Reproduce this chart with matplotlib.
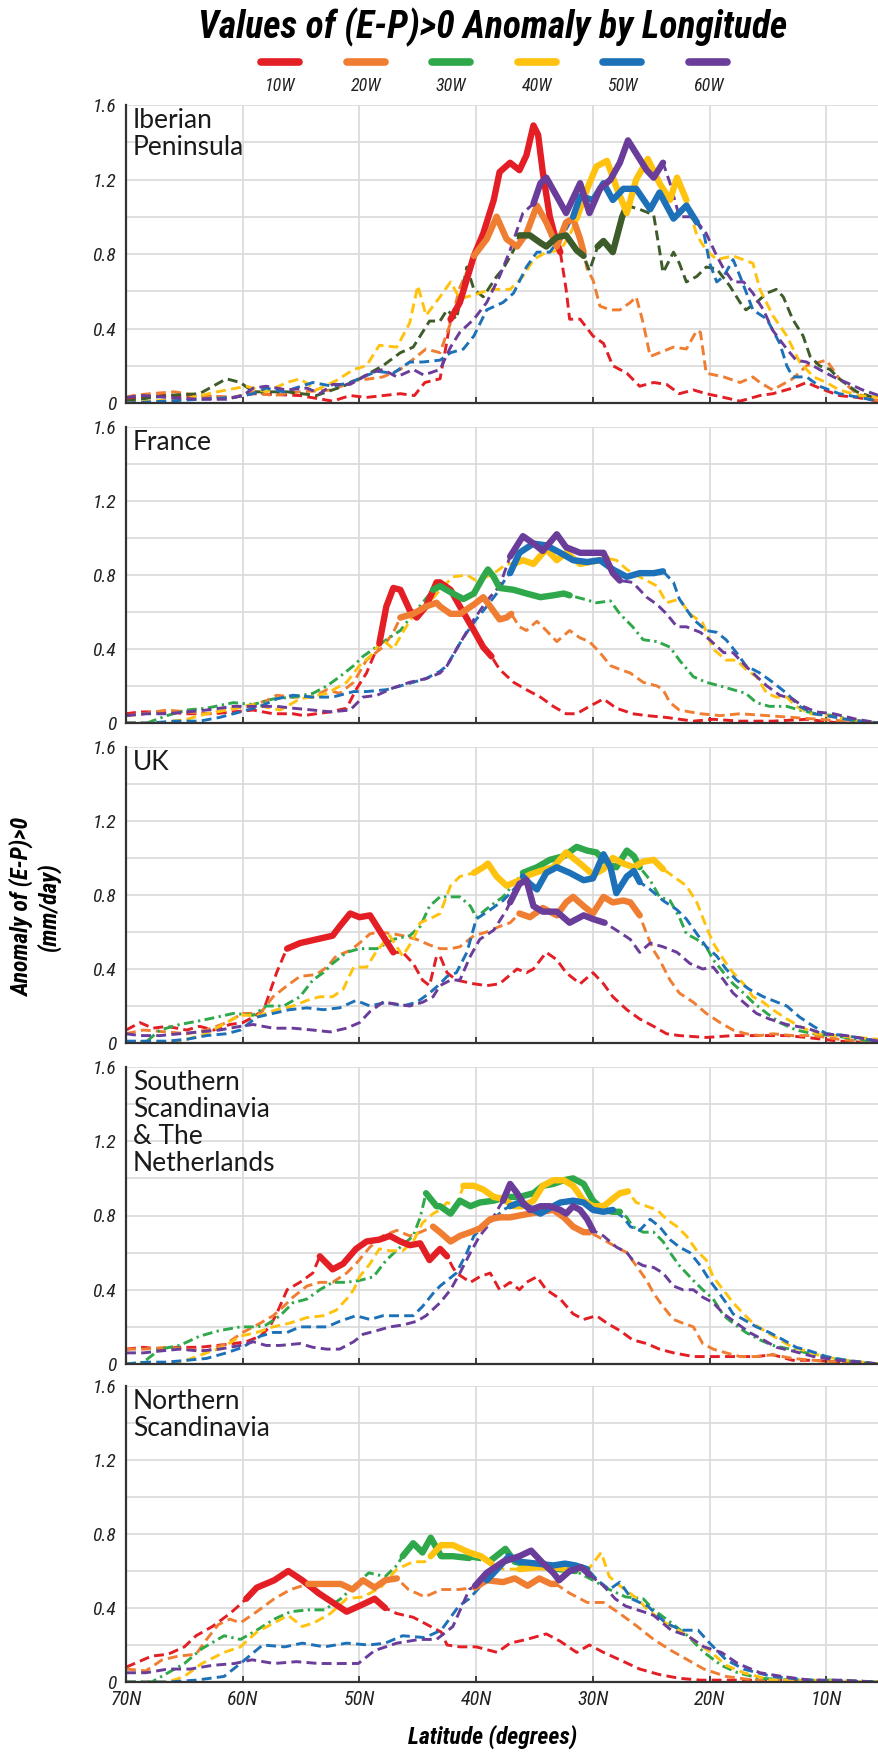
import matplotlib
matplotlib.use('Agg')
import matplotlib.pyplot as plt
from matplotlib import font_manager
from matplotlib.lines import Line2D

# ---------------- data ----------------
LONGITUDES = ['10W', '20W', '30W', '40W', '50W', '60W']
COLORS = ['#E31E24', '#F07E32', '#2EA84A', '#FFC20E', '#1D71B8', '#6A3D9A']
IBERIA_30W_COLOR = '#3D5C29'
REGIONS = ['Iberian\nPeninsula', 'France', 'UK',
           'Southern\nScandinavia\n& The\nNetherlands', 'Northern\nScandinavia']
X_TICKS = [70, 60, 50, 40, 30, 20, 10]
X_TICK_LABELS = ['70N', '60N', '50N', '40N', '30N', '20N', '10N']
Y_TICKS = [0, 0.4, 0.8, 1.2, 1.6]
Y_TICK_LABELS = ['0', '0.4', '0.8', '1.2', '1.6']
Y_MINOR = [0.2, 0.6, 1.0, 1.4]

# (latitude, anomaly) pairs
IB_10W = [(70,0.02),(67,0.04),(65.4,0.04),(60.8,0.03),(59.1,0.05),(55.1,0.04),(52.3,0.01),(50.8,0.04),(49.4,0.03),(46.5,0.05),(45.3,0.04),(44.4,0.11),(43.1,0.13),(42.6,0.30),(42.2,0.45),(41.4,0.54),(40.2,0.79),(39.4,0.91),(38.5,1.09),(38.0,1.24),(37.1,1.29),(36.3,1.25),(35.7,1.33),(35.1,1.49),(34.7,1.44),(34.3,1.24),(33.7,1.00),(33.1,0.86),(32.8,0.81),(32.3,0.61),(32.0,0.45),(31.1,0.45),(30.0,0.36),(29.1,0.32),(28.3,0.20),(27.1,0.16),(26.0,0.09),(24.8,0.11),(23.7,0.10),(22.6,0.05),(21.4,0.07),(20.3,0.05),(18.8,0.03),(17.4,0.01),(15.7,0.04),(14.6,0.05),(12.9,0.08),(11.7,0.11),(10.6,0.08),(8.9,0.04),(7.4,0.03),(5.5,0.01)]
IB_20W = [(70,0.03),(69.4,0.04),(67.9,0.05),(65.9,0.06),(63.7,0.04),(60.8,0.03),(59.1,0.06),(57.4,0.04),(55.1,0.06),(52.3,0.07),(50.5,0.12),(49.1,0.13),(48,0.14),(46.5,0.18),(45.1,0.25),(44.3,0.29),(43.1,0.27),(42.2,0.43),(41.4,0.62),(40.2,0.79),(39.1,0.88),(38.25,1.00),(37.4,0.88),(36.5,0.84),(35.7,0.91),(34.8,1.06),(34.0,0.97),(33.1,0.84),(32.3,0.97),(31.7,0.99),(31.1,0.88),(30.8,0.81),(30.5,0.72),(30.0,0.66),(29.4,0.52),(28.5,0.50),(27.7,0.50),(26.8,0.54),(26.3,0.57),(25.7,0.43),(25.1,0.25),(24.3,0.27),(23.1,0.30),(22.0,0.29),(21.1,0.39),(20.8,0.38),(20.3,0.16),(18.8,0.14),(17.4,0.11),(16.3,0.14),(15.7,0.11),(14.6,0.07),(12.9,0.13),(11.7,0.20),(10.0,0.23),(8.9,0.13),(7.4,0.05),(5.5,0.01)]
IB_30W = [(70,0.01),(66.5,0.04),(63.7,0.05),(61.4,0.13),(60.2,0.11),(59.1,0.06),(56.2,0.06),(53.7,0.04),(51.4,0.09),(50,0.13),(48,0.20),(46.5,0.27),(45.4,0.30),(44.5,0.39),(44,0.44),(43.1,0.44),(42.5,0.50),(41.7,0.45),(40.8,0.73),(40.2,0.61),(39.4,0.57),(38.25,0.68),(37.7,0.72),(36.8,0.82),(36.3,0.90),(35.4,0.90),(34.5,0.86),(34.0,0.84),(33.1,0.89),(32.3,0.90),(31.4,0.82),(30.8,0.79),(30.3,0.71),(29.6,0.84),(29.1,0.87),(28.3,0.81),(27.5,1.00),(27.1,1.06),(26.0,1.04),(24.8,1.01),(24.3,0.82),(24.0,0.70),(23.1,0.81),(22.6,0.75),(22.0,0.65),(21.1,0.68),(20.3,0.73),(19.4,0.72),(18.3,0.63),(17.4,0.54),(16.9,0.50),(16.0,0.54),(15.1,0.59),(14.3,0.61),(13.7,0.57),(12.9,0.45),(12.0,0.36),(11.4,0.25),(10.6,0.20),(9.7,0.18),(8.9,0.13),(7.4,0.06),(5.5,0.02)]
IB_40W = [(70,0.0),(67.9,0.01),(65.1,0.02),(62.2,0.06),(59.7,0.09),(58,0.06),(56.2,0.11),(55.1,0.13),(53.7,0.07),(52,0.12),(50.5,0.18),(49.4,0.20),(48.3,0.31),(46.8,0.30),(45.7,0.43),(45,0.63),(44.3,0.47),(43.1,0.57),(42.2,0.65),(41.4,0.56),(40.2,0.58),(38.8,0.61),(37.1,0.61),(36,0.68),(35.1,0.77),(34,0.81),(32.8,0.82),(32,0.90),(31.4,0.99),(30.5,1.15),(29.7,1.27),(28.8,1.30),(28.0,1.16),(27.1,1.02),(26.3,1.20),(25.3,1.31),(24.3,1.18),(23.4,1.09),(22.8,1.21),(22.0,1.09),(21.1,0.90),(20.3,0.82),(19.4,0.77),(18.0,0.79),(16.3,0.75),(15.7,0.61),(14.6,0.47),(13.4,0.36),(12.3,0.22),(11.1,0.14),(10.0,0.11),(8.9,0.07),(7.2,0.04),(5.5,0.03)]
IB_50W = [(70,0.0),(66.5,0.01),(63.7,0.02),(60.8,0.03),(59.1,0.05),(58,0.08),(56.5,0.06),(54,0.11),(52.3,0.09),(50.8,0.11),(49.7,0.14),(48.5,0.17),(47.1,0.16),(45.7,0.22),(44.6,0.22),(43.1,0.23),(42.2,0.27),(41.1,0.29),(40.2,0.36),(39.1,0.50),(37.7,0.54),(36.8,0.59),(35.7,0.73),(34.8,0.81),(33.7,0.81),(32.5,0.91),(31.7,1.00),(31.1,1.11),(30.0,1.09),(29.1,1.18),(28.3,1.09),(27.4,1.15),(26.3,1.15),(25.1,1.04),(24.3,1.13),(23.1,0.99),(22.0,1.06),(21.1,0.97),(20.5,0.91),(20.0,0.75),(19.4,0.65),(18.8,0.68),(18.0,0.77),(17.4,0.68),(16.3,0.50),(15.1,0.45),(14.0,0.32),(13.4,0.20),(12.9,0.14),(11.7,0.14),(10.6,0.09),(8.9,0.05),(7.2,0.03),(5.5,0.01)]
IB_60W = [(70,0.03),(68.5,0.04),(66.5,0.03),(63.7,0.02),(61.4,0.02),(60,0.04),(59.1,0.08),(58,0.09),(56.2,0.07),(54.5,0.08),(53.4,0.05),(52.3,0.10),(50.8,0.10),(49.1,0.16),(48,0.18),(46.8,0.14),(45.4,0.18),(44.5,0.15),(43.1,0.18),(42.2,0.30),(41.4,0.38),(40.2,0.45),(39.1,0.54),(38,0.68),(37.1,0.82),(36,1.02),(35.1,1.07),(34.5,1.18),(34.0,1.21),(33.1,1.11),(32.3,1.02),(31.1,1.18),(30.3,1.02),(29.4,1.15),(28.5,1.20),(27.7,1.29),(27.0,1.41),(26.3,1.34),(25.4,1.25),(24.8,1.21),(24.0,1.29),(23.4,1.18),(22.6,1.00),(21.4,1.00),(20.3,0.91),(19.4,0.79),(18.8,0.72),(18.0,0.65),(17.1,0.65),(16.3,0.59),(15.4,0.50),(14.6,0.39),(13.4,0.29),(12.6,0.23),(11.7,0.22),(10.6,0.18),(9.4,0.14),(8.3,0.11),(6.9,0.07),(5.5,0.04)]
IB_SOLID = [[(42.2, 32.8)], [(40.2, 30.8)], [(36.3, 30.8), (29.6, 27.1)],
            [(31.4, 22.0)], [(31.7, 21.1)], [(35.1, 24.0)]]

FR_10W = [(70,0.05),(68.8,0.06),(66.5,0.06),(64.8,0.05),(62.5,0.05),(60.8,0.06),(59.1,0.07),(57.4,0.05),(55.7,0.05),(54.8,0.04),(53.7,0.05),(52.5,0.06),(51.1,0.08),(50.3,0.18),(49.4,0.27),(48.8,0.36),(48.3,0.43),(47.7,0.63),(47.1,0.73),(46.5,0.72),(45.7,0.61),(45.1,0.57),(44.3,0.63),(43.4,0.76),(43.1,0.76),(42.2,0.72),(41.4,0.63),(40.2,0.50),(39.4,0.41),(38.7,0.36),(38.0,0.29),(36.8,0.22),(35.7,0.18),(34.5,0.14),(33.4,0.09),(32.3,0.05),(31.4,0.05),(30.3,0.09),(29.1,0.13),(28.0,0.08),(26.6,0.05),(25.4,0.04),(23.7,0.03),(21.4,0.01),(19.7,0.02),(17.4,0.01),(14.6,0.01),(11.7,0.02),(8.9,0.0),(5.5,0.0)]
FR_20W = [(70,0.04),(68.5,0.05),(66.5,0.07),(64.8,0.06),(63.1,0.05),(61.4,0.07),(59.7,0.09),(58,0.12),(57.1,0.15),(55.7,0.14),(54,0.14),(52.8,0.18),(51.7,0.16),(50.5,0.22),(49.4,0.34),(48,0.41),(47.1,0.49),(46.5,0.57),(45.4,0.59),(44.3,0.63),(43.4,0.65),(43.1,0.63),(42.2,0.59),(41.4,0.59),(40.2,0.64),(39.4,0.68),(38.8,0.63),(38.0,0.56),(37.4,0.57),(37.0,0.59),(36.3,0.52),(35.7,0.50),(34.8,0.55),(34.0,0.50),(33.1,0.44),(32.0,0.50),(31.1,0.46),(30.3,0.44),(29.4,0.38),(28.5,0.31),(27.7,0.29),(26.8,0.27),(25.7,0.22),(24.5,0.20),(24.0,0.18),(23.4,0.11),(22.6,0.07),(20.8,0.05),(19.1,0.04),(17.4,0.05),(15.1,0.04),(12.9,0.03),(10.6,0.02),(8.3,0.01),(5.5,0.0)]
FR_30W = [(70,0.0),(68.2,0.0),(66.5,0.04),(64.8,0.07),(63.1,0.08),(60.8,0.11),(59.1,0.10),(57.4,0.13),(55.7,0.14),(54,0.16),(52.8,0.20),(51.7,0.25),(50.5,0.31),(49.7,0.36),(48.8,0.40),(47.7,0.45),(46.5,0.50),(45.4,0.59),(44.6,0.65),(43.7,0.72),(43.1,0.74),(42.0,0.70),(41.1,0.67),(40.2,0.70),(39.4,0.79),(39.0,0.83),(38.5,0.79),(38.0,0.73),(36.8,0.72),(35.7,0.70),(34.5,0.68),(33.4,0.69),(32.5,0.70),(32.0,0.69),(30.8,0.67),(29.7,0.65),(28.5,0.66),(27.7,0.59),(26.6,0.52),(25.7,0.45),(24.5,0.44),(23.4,0.41),(22.6,0.34),(21.4,0.25),(20.3,0.22),(19.1,0.20),(18.0,0.18),(16.9,0.16),(16.0,0.11),(14.9,0.09),(13.4,0.09),(12.3,0.07),(10.9,0.05),(9.4,0.04),(7.4,0.01),(5.5,0.0)]
FR_40W = [(70,0.0),(67.1,0.0),(64.8,0.02),(63.1,0.05),(61.4,0.07),(59.1,0.10),(56.8,0.07),(55.1,0.13),(52.8,0.16),(51.1,0.22),(50,0.31),(49.1,0.36),(48,0.45),(47.1,0.40),(46.3,0.49),(45.4,0.58),(44.3,0.63),(43.1,0.72),(42,0.79),(40.8,0.80),(40,0.77),(39.1,0.79),(38.25,0.82),(37.4,0.86),(36.8,0.86),(36,0.88),(35.1,0.86),(34,0.94),(33.1,0.88),(32.3,0.92),(31.1,0.86),(30.3,0.87),(29.4,0.88),(28.8,0.89),(28,0.88),(27.1,0.83),(26.3,0.80),(25.4,0.77),(24.5,0.74),(23.7,0.65),(22.6,0.67),(21.7,0.59),(20.6,0.54),(19.7,0.40),(18.6,0.34),(17.7,0.34),(16.9,0.29),(16.0,0.25),(15.1,0.16),(14.3,0.14),(13.4,0.14),(12.6,0.09),(11.4,0.05),(10.0,0.04),(8.3,0.02),(5.5,0.0)]
FR_50W = [(70,0.0),(67.9,0.0),(65.9,0.01),(63.7,0.01),(62,0.03),(60.2,0.06),(58.5,0.09),(57.1,0.13),(55.7,0.15),(54,0.14),(52.3,0.14),(50.5,0.17),(49.4,0.17),(47.7,0.18),(46.5,0.20),(45.4,0.22),(44.3,0.24),(43.1,0.28),(42.5,0.31),(41.7,0.40),(40.8,0.49),(40,0.56),(39.1,0.63),(38.25,0.70),(37.4,0.79),(37.1,0.81),(36.3,0.92),(35.1,0.97),(34,0.96),(32.8,0.92),(31.7,0.88),(30.5,0.87),(29.4,0.88),(28.3,0.83),(27.1,0.79),(26,0.81),(24.8,0.81),(24.0,0.82),(23.1,0.76),(22.6,0.67),(21.4,0.56),(20.3,0.50),(19.4,0.49),(18.6,0.45),(17.7,0.38),(16.9,0.31),(15.7,0.27),(14.6,0.22),(13.4,0.16),(12.3,0.09),(11.1,0.05),(10,0.04),(8.3,0.02),(5.5,0.0)]
FR_60W = [(70,0.04),(68.2,0.05),(66.5,0.05),(64.8,0.06),(63.1,0.07),(60.8,0.09),(59.1,0.09),(57.1,0.09),(55.7,0.08),(54,0.07),(52.5,0.06),(50.8,0.07),(49.7,0.14),(48.5,0.15),(47.1,0.19),(45.7,0.22),(44.3,0.24),(43.1,0.27),(42.5,0.31),(41.4,0.43),(40.2,0.56),(39.1,0.66),(38,0.74),(37.1,0.90),(36,1.01),(35.1,0.97),(34.3,0.93),(33.1,1.02),(32.3,0.95),(31.1,0.92),(30,0.92),(29.1,0.92),(28.3,0.81),(27.7,0.77),(26.6,0.76),(25.4,0.68),(24.5,0.64),(23.7,0.59),(22.8,0.52),(22.0,0.52),(20.8,0.49),(20.0,0.45),(18.8,0.38),(18.0,0.38),(17.1,0.32),(16.3,0.27),(15.1,0.20),(14.0,0.15),(12.9,0.13),(12.0,0.09),(10.9,0.06),(9.4,0.05),(7.4,0.02),(5.5,0.0)]
FR_SOLID = [[(48.3, 38.7)], [(46.5, 37.0)], [(43.7, 32.0)],
            [(36.8, 28.8)], [(37.1, 24.0)], [(37.1, 27.7)]]

UK_10W = [(70,0.07),(68.8,0.11),(67.7,0.08),(66.5,0.09),(64.8,0.07),(63.7,0.09),(62.5,0.07),(61.1,0.10),(60,0.11),(59.1,0.14),(58.2,0.18),(57.7,0.27),(57.1,0.38),(56.5,0.47),(56.2,0.51),(55.1,0.54),(53.7,0.56),(52.3,0.58),(51.7,0.63),(50.8,0.70),(50,0.68),(49.1,0.69),(48.3,0.61),(47.1,0.49),(46.3,0.49),(45.4,0.43),(44.6,0.34),(44,0.31),(43.4,0.47),(43.1,0.47),(42.5,0.38),(41.7,0.34),(40.2,0.32),(39.1,0.31),(38,0.32),(36.5,0.40),(35.7,0.38),(35.1,0.40),(34,0.49),(33.1,0.45),(32.3,0.38),(31.1,0.32),(30,0.38),(29.1,0.32),(28.3,0.25),(27.1,0.18),(26,0.13),(24.8,0.09),(23.7,0.05),(22.6,0.04),(20.3,0.03),(18,0.04),(15.7,0.04),(13.4,0.04),(11.7,0.03),(8.9,0.01),(5.5,0.0)]
UK_20W = [(70,0.05),(68.5,0.07),(66.5,0.06),(64.8,0.05),(63.1,0.07),(61.4,0.11),(60,0.16),(58.5,0.16),(57.4,0.25),(56.2,0.31),(55.1,0.36),(53.7,0.37),(52.8,0.41),(52,0.47),(50.8,0.50),(50,0.54),(49.1,0.59),(48.3,0.60),(47.1,0.59),(46.3,0.58),(45.1,0.56),(44,0.53),(43.1,0.51),(42.2,0.51),(41.4,0.52),(40.2,0.58),(39.1,0.60),(38,0.63),(37.1,0.65),(36.3,0.70),(35.4,0.68),(34.3,0.73),(33.1,0.69),(32.3,0.76),(31.7,0.79),(30.8,0.74),(30,0.70),(29.1,0.79),(28.3,0.76),(27.4,0.77),(26.8,0.76),(26,0.69),(25.4,0.59),(24.8,0.50),(24.3,0.45),(23.4,0.34),(22.6,0.27),(21.4,0.22),(20.3,0.16),(19.1,0.11),(18,0.07),(16.9,0.05),(15.7,0.04),(14.6,0.05),(12.9,0.04),(11.1,0.04),(8.9,0.02),(5.5,0.0)]
UK_30W = [(70,0.0),(68.2,0.01),(67.1,0.07),(65.4,0.10),(63.7,0.12),(62.2,0.14),(60.8,0.16),(59.1,0.15),(58,0.20),(56.5,0.20),(55.1,0.25),(54,0.34),(53.1,0.38),(52.3,0.43),(51.1,0.49),(50,0.51),(48.5,0.51),(47.1,0.56),(45.7,0.58),(44.8,0.63),(44,0.74),(43.1,0.79),(42.5,0.79),(41.4,0.79),(40.5,0.74),(40,0.68),(38.8,0.74),(37.7,0.79),(36.8,0.86),(36,0.92),(34.8,0.95),(33.7,0.99),(32.5,1.01),(31.4,1.06),(30.5,1.04),(29.7,1.03),(28.8,0.97),(28,0.95),(27.1,1.04),(26.5,1.01),(26,0.95),(25.1,0.88),(24.3,0.79),(23.4,0.77),(22.6,0.68),(22,0.59),(21.1,0.56),(20.3,0.52),(19.7,0.45),(18.8,0.38),(18,0.32),(17.1,0.27),(16.3,0.22),(15.1,0.16),(14,0.11),(12.6,0.07),(11.1,0.05),(9.4,0.04),(7.4,0.02),(5.5,0.01)]
UK_40W = [(70,0.0),(66.5,0.0),(64.8,0.02),(63.1,0.05),(61.4,0.11),(60.2,0.15),(58.5,0.15),(57.1,0.18),(55.7,0.20),(54.5,0.23),(53.4,0.25),(52.3,0.25),(51.4,0.29),(50.5,0.41),(49.4,0.41),(48.5,0.50),(47.4,0.58),(46.3,0.47),(45.4,0.56),(44.8,0.65),(43.7,0.68),(43.1,0.70),(42.2,0.85),(41.4,0.90),(40.2,0.92),(39.4,0.95),(39.0,0.97),(38.25,0.90),(37.4,0.85),(36.3,0.88),(35.4,0.91),(34.5,0.93),(33.4,0.95),(32.3,1.03),(31.1,0.97),(30,0.91),(29.1,0.94),(28.3,1.00),(27.4,0.97),(26.5,0.95),(25.7,0.98),(24.8,0.99),(24,0.94),(23.1,0.90),(22,0.85),(21.1,0.76),(20.3,0.63),(19.7,0.54),(18.8,0.45),(18,0.38),(17.1,0.32),(16.3,0.25),(15.4,0.22),(14.6,0.18),(13.4,0.13),(12.3,0.09),(10.9,0.05),(9.4,0.04),(7.4,0.03),(5.5,0.02)]
UK_50W = [(70,0.01),(68.2,0.01),(66.5,0.01),(64.8,0.02),(63.1,0.04),(61.4,0.05),(60.2,0.07),(58.8,0.14),(57.4,0.16),(56,0.18),(54.5,0.19),(53.1,0.18),(51.7,0.19),(50.3,0.23),(49.1,0.20),(47.7,0.22),(46.3,0.20),(45.1,0.22),(44,0.27),(43.1,0.32),(42.5,0.36),(41.7,0.38),(40.8,0.49),(40,0.67),(38.8,0.72),(37.7,0.77),(36.5,0.85),(36,0.90),(35.4,0.86),(34.8,0.83),(34,0.92),(33.1,0.95),(32,0.92),(30.8,0.88),(30,0.89),(29.1,1.02),(28.5,0.95),(28,0.81),(27.1,0.90),(26.5,0.93),(26,0.87),(25.1,0.83),(24,0.77),(22.8,0.72),(22,0.67),(21.1,0.59),(20.3,0.52),(19.4,0.47),(18.6,0.40),(17.7,0.34),(16.6,0.29),(15.4,0.25),(14.6,0.23),(13.4,0.20),(12.3,0.14),(11.1,0.09),(10,0.05),(8.3,0.04),(6.6,0.02),(5.5,0.01)]
UK_60W = [(70,0.05),(68.8,0.04),(67.1,0.04),(65.4,0.05),(63.7,0.06),(62,0.07),(60.2,0.09),(59.1,0.10),(57.4,0.08),(55.7,0.08),(54,0.07),(52.5,0.06),(51.1,0.08),(50,0.11),(49.1,0.17),(48,0.22),(46.8,0.21),(45.7,0.20),(44.6,0.22),(43.7,0.25),(43.1,0.31),(42.2,0.34),(41.4,0.34),(40.5,0.47),(39.7,0.56),(38.5,0.61),(37.4,0.72),(37.1,0.76),(36.3,0.86),(35.7,0.88),(35.1,0.74),(34.3,0.71),(33.1,0.71),(32,0.65),(30.8,0.69),(30,0.67),(29,0.65),(28,0.61),(26.8,0.56),(26,0.49),(25.1,0.54),(24,0.52),(22.8,0.49),(21.7,0.43),(20.6,0.40),(19.7,0.41),(18.8,0.34),(18,0.27),(17.1,0.22),(16,0.16),(14.9,0.13),(13.4,0.10),(11.7,0.08),(10.3,0.05),(8.3,0.04),(5.5,0.01)]
UK_SOLID = [[(56.2, 47.1)], [(36.3, 26.0)], [(36.0, 26.0)],
            [(40.2, 24.0)], [(36.0, 26.0)], [(37.1, 29.0)]]

SS_10W = [(70,0.08),(68.5,0.09),(67.1,0.08),(65.7,0.09),(63.7,0.09),(62.2,0.10),(60.8,0.11),(59.7,0.12),(58.5,0.15),(57.7,0.20),(57.1,0.27),(56.2,0.40),(55.1,0.44),(54,0.49),(53.4,0.58),(52.3,0.51),(51.4,0.54),(50.3,0.62),(49.4,0.66),(48.3,0.67),(47.4,0.69),(46.5,0.66),(45.7,0.64),(44.8,0.65),(44,0.56),(43.1,0.62),(42.5,0.58),(42.0,0.52),(41.7,0.49),(40.5,0.44),(39.7,0.47),(38.8,0.49),(38,0.40),(37.1,0.44),(36.3,0.40),(35.7,0.44),(34.8,0.47),(34,0.40),(32.8,0.35),(31.7,0.27),(30.8,0.24),(29.7,0.26),(28.8,0.22),(27.7,0.18),(26.6,0.13),(25.4,0.11),(24.3,0.08),(23.1,0.06),(21.4,0.04),(19.7,0.04),(18,0.04),(16,0.04),(14.6,0.05),(12.9,0.02),(11.1,0.02),(8.9,0.01),(5.5,0.0)]
SS_20W = [(70,0.08),(68.5,0.08),(66.5,0.09),(64.8,0.08),(63.1,0.07),(61.4,0.11),(60,0.17),(58.5,0.22),(57.4,0.26),(56.5,0.31),(55.7,0.36),(54.5,0.42),(53.4,0.44),(52.3,0.44),(51.1,0.49),(50.3,0.54),(49.1,0.63),(48,0.69),(46.8,0.72),(45.7,0.69),(44.8,0.71),(43.7,0.74),(43.1,0.71),(42.2,0.66),(41.4,0.69),(40.5,0.71),(39.7,0.73),(38.8,0.78),(38,0.79),(37.1,0.79),(36.3,0.80),(35.4,0.81),(34.5,0.82),(33.4,0.83),(32.5,0.79),(31.7,0.74),(30.8,0.71),(30.3,0.71),(29.1,0.67),(28,0.63),(27.1,0.60),(26.3,0.53),(25.4,0.45),(24.8,0.38),(24,0.31),(23.1,0.24),(22.3,0.22),(21.4,0.20),(20.6,0.11),(19.7,0.08),(18.6,0.06),(17.4,0.04),(16,0.04),(14.6,0.05),(12.9,0.03),(11.1,0.02),(8.9,0.01),(5.5,0.0)]
SS_30W = [(70,0.0),(68.5,0.01),(67.1,0.08),(65.4,0.10),(63.7,0.15),(62,0.18),(60.2,0.20),(58.8,0.20),(58,0.21),(56.8,0.26),(55.7,0.33),(54.5,0.35),(53.4,0.40),(52.3,0.44),(51.1,0.44),(50,0.45),(48.8,0.47),(47.7,0.56),(46.5,0.63),(45.4,0.69),(44.8,0.79),(44.3,0.92),(43.4,0.85),(43.1,0.85),(42.2,0.81),(41.4,0.88),(40.5,0.85),(39.7,0.87),(38.5,0.88),(37.4,0.90),(36.3,0.90),(35.1,0.92),(34.3,0.96),(33.4,0.97),(32.5,0.99),(31.7,1.00),(30.8,0.97),(30,0.88),(29.1,0.83),(28.3,0.82),(27.7,0.82),(27.1,0.79),(26.6,0.74),(25.7,0.71),(24.8,0.71),(24,0.66),(23.4,0.60),(22.6,0.53),(21.4,0.45),(20.6,0.40),(19.7,0.35),(18.8,0.26),(18,0.22),(16.9,0.17),(15.7,0.13),(14.6,0.10),(13.1,0.08),(11.7,0.06),(9.4,0.03),(7.4,0.01),(5.5,0.0)]
SS_40W = [(70,0.0),(66,0.0),(64.8,0.02),(63.1,0.06),(61.7,0.09),(60.2,0.15),(58.8,0.17),(57.4,0.20),(56,0.22),(54.5,0.25),(53.1,0.26),(52,0.29),(51.1,0.35),(50.5,0.40),(50,0.47),(49.1,0.54),(48.3,0.62),(47.4,0.61),(46.3,0.61),(45.4,0.66),(44.6,0.76),(43.7,0.81),(43.1,0.83),(42.5,0.87),(41.7,0.85),(41.1,0.96),(40.2,0.96),(39.4,0.94),(38.5,0.90),(37.7,0.89),(36.8,0.85),(36,0.85),(35.1,0.88),(34.3,0.96),(33.4,0.99),(32.5,0.99),(31.7,0.96),(30.8,0.88),(30,0.85),(29.1,0.85),(28.5,0.88),(27.7,0.92),(27,0.93),(26.3,0.87),(25.4,0.85),(24.5,0.83),(23.7,0.78),(22.8,0.74),(22,0.69),(21.1,0.61),(20.3,0.56),(19.7,0.47),(19.1,0.42),(18.6,0.38),(18,0.33),(17.1,0.27),(16.3,0.22),(15.1,0.17),(14,0.13),(12.9,0.09),(11.7,0.07),(10.3,0.04),(8.3,0.02),(5.5,0.0)]
SS_50W = [(70,0.0),(68.2,0.01),(66.5,0.01),(64.8,0.02),(63.1,0.03),(61.4,0.06),(60,0.09),(58.5,0.15),(57.4,0.17),(56.2,0.17),(55.1,0.20),(54,0.20),(52.8,0.20),(51.7,0.23),(50.3,0.26),(49.1,0.24),(48,0.26),(46.5,0.26),(45.4,0.26),(44.6,0.31),(43.7,0.38),(43.1,0.42),(42.5,0.45),(41.7,0.49),(40.8,0.60),(40.2,0.69),(39.4,0.74),(38.5,0.78),(37.7,0.83),(37.1,0.85),(36.3,0.87),(35.4,0.84),(34.5,0.81),(33.7,0.84),(32.8,0.87),(31.7,0.88),(30.8,0.87),(30,0.83),(29.1,0.82),(28.3,0.83),(27.4,0.79),(26.8,0.74),(26,0.72),(25.1,0.78),(24.3,0.74),(23.4,0.67),(22.6,0.63),(21.7,0.60),(20.8,0.53),(20,0.45),(19.4,0.40),(18.6,0.33),(18,0.27),(17.1,0.24),(16,0.20),(14.9,0.17),(13.7,0.13),(12.6,0.09),(11.4,0.07),(10,0.04),(8.3,0.02),(5.5,0.0)]
SS_60W = [(70,0.06),(68.5,0.06),(67.1,0.07),(65.4,0.08),(63.7,0.07),(62,0.08),(60.2,0.10),(59.1,0.12),(58,0.10),(56.8,0.10),(55.1,0.11),(54,0.09),(52.8,0.08),(51.7,0.08),(50.5,0.12),(49.7,0.16),(48.5,0.18),(47.4,0.20),(46.3,0.21),(45.1,0.23),(44.3,0.26),(43.1,0.33),(42.2,0.40),(41.4,0.49),(40.5,0.60),(39.7,0.69),(38.8,0.76),(38,0.85),(37.7,0.88),(37.1,0.97),(36.5,0.92),(36,0.87),(35.4,0.83),(34.5,0.85),(33.7,0.85),(32.8,0.83),(32.3,0.81),(31.7,0.85),(31.1,0.83),(30.5,0.78),(30,0.72),(29.1,0.69),(28,0.63),(27.1,0.60),(26.6,0.56),(25.7,0.53),(24.8,0.52),(24,0.49),(23.1,0.42),(22.3,0.40),(21.4,0.40),(20.6,0.36),(19.7,0.33),(18.8,0.27),(17.7,0.22),(16.6,0.17),(15.4,0.13),(14.3,0.09),(12.9,0.07),(11.1,0.04),(8.9,0.02),(5.5,0.0)]
SS_SOLID = [[(53.4, 42.5)], [(43.7, 30.3)], [(44.3, 27.7)],
            [(41.1, 27.0)], [(37.1, 28.3)], [(37.7, 30.0)]]

NS_10W = [(70,0.08),(67.8,0.14),(66.4,0.15),(65,0.19),(64,0.25),(62.6,0.30),(61.1,0.37),(60.2,0.42),(59.7,0.45),(58.8,0.51),(57.3,0.55),(56.1,0.60),(54.9,0.55),(53.5,0.48),(52.3,0.43),(51.1,0.38),(49.7,0.42),(48.7,0.45),(47.8,0.40),(46.8,0.37),(45.4,0.35),(43.9,0.30),(43,0.27),(42.5,0.20),(41.4,0.19),(40,0.19),(38.2,0.16),(37.1,0.21),(35.7,0.23),(34,0.26),(32.8,0.22),(31.4,0.16),(30.3,0.20),(29.1,0.16),(27.7,0.12),(26,0.07),(24.3,0.04),(22.6,0.02),(20.8,0.01),(18.8,0.01),(13.8,0.01),(10,0.0),(5.5,0.0)]
NS_20W = [(70,0.07),(68.3,0.06),(66.9,0.12),(65.5,0.14),(64,0.15),(63.1,0.23),(62.1,0.31),(61.1,0.34),(60.2,0.32),(58.8,0.38),(57.3,0.45),(55.9,0.50),(54.4,0.53),(53,0.53),(51.6,0.53),(50.6,0.50),(49.7,0.55),(48.7,0.51),(47.8,0.55),(46.8,0.56),(45.8,0.50),(44.4,0.46),(43,0.50),(41.5,0.50),(40.1,0.51),(39.1,0.55),(37.7,0.54),(36.7,0.56),(35.6,0.52),(34.6,0.56),(33.6,0.53),(33.2,0.53),(32,0.48),(30.5,0.43),(29.1,0.43),(27.7,0.37),(26.2,0.30),(24.8,0.23),(23.3,0.17),(21.9,0.12),(20.5,0.07),(18.6,0.03),(16.2,0.01),(12.8,0.01),(9,0.0),(5.5,0.0)]
NS_30W = [(70,0.0),(67.8,0.0),(66.4,0.05),(65,0.10),(63.5,0.18),(61.6,0.25),(60.2,0.23),(58.8,0.28),(57.3,0.34),(55.9,0.38),(54.4,0.39),(53,0.39),(51.6,0.45),(50.1,0.54),(49.2,0.59),(47.8,0.57),(46.8,0.63),(46.3,0.68),(45.4,0.75),(44.6,0.70),(43.9,0.78),(43,0.68),(42,0.68),(40.6,0.67),(39.6,0.66),(38.7,0.66),(37.5,0.72),(36.7,0.65),(35.3,0.63),(33.9,0.62),(32.9,0.61),(31.5,0.60),(30,0.55),(28.6,0.50),(27.2,0.46),(25.7,0.45),(24.8,0.39),(23.3,0.32),(21.9,0.25),(20.5,0.16),(19,0.09),(17.6,0.05),(15.7,0.02),(12.8,0.01),(9,0.01),(5.5,0.0)]
NS_40W = [(70,0.0),(66.4,0.0),(65,0.03),(63.5,0.10),(61.6,0.16),(60.2,0.19),(58.8,0.27),(57.3,0.32),(56.1,0.36),(54.9,0.30),(53.9,0.32),(52.5,0.37),(51.1,0.45),(49.7,0.46),(48.2,0.51),(46.8,0.61),(45.4,0.65),(44.4,0.65),(43.9,0.68),(43,0.74),(42,0.74),(40.6,0.70),(39.6,0.68),(38.7,0.64),(37.7,0.61),(36.3,0.61),(34.8,0.62),(33.4,0.62),(32,0.61),(30.5,0.60),(29.3,0.70),(28.6,0.57),(27.7,0.52),(26.2,0.45),(25.3,0.39),(23.8,0.32),(22.4,0.27),(21,0.21),(19.5,0.14),(18.6,0.09),(17.1,0.05),(14.7,0.01),(11.4,0.01),(5.5,0.0)]
NS_50W = [(70,0.0),(66.4,0.0),(64,0.01),(61.6,0.03),(60.2,0.10),(58.3,0.20),(56.4,0.19),(54.9,0.21),(53,0.19),(51.1,0.21),(49.2,0.20),(47.8,0.21),(46.3,0.25),(44.4,0.24),(43,0.28),(41.5,0.41),(40.6,0.45),(39.6,0.52),(39.1,0.55),(38.2,0.61),(37.2,0.68),(36.3,0.65),(34.8,0.64),(33.4,0.63),(32.4,0.64),(31.5,0.63),(30.5,0.61),(29.6,0.55),(28.6,0.50),(27.7,0.54),(26.7,0.45),(25.3,0.41),(23.8,0.32),(22.4,0.28),(21,0.28),(20,0.21),(18.6,0.12),(17.1,0.07),(14.7,0.03),(11.4,0.01),(5.5,0.0)]
NS_60W = [(70,0.05),(68.3,0.05),(66.4,0.07),(64.5,0.07),(62.6,0.09),(60.7,0.10),(59.2,0.12),(57.3,0.10),(55.4,0.11),(53.5,0.10),(51.6,0.10),(50.1,0.10),(48.7,0.17),(46.8,0.21),(44.9,0.23),(43.4,0.23),(42,0.30),(40.6,0.50),(40.1,0.52),(39.1,0.59),(37.7,0.65),(36.3,0.68),(35.3,0.71),(34.4,0.65),(33.4,0.59),(32.9,0.55),(32,0.60),(31,0.62),(30.3,0.58),(29.1,0.52),(28.1,0.45),(27.2,0.41),(25.7,0.38),(24.8,0.36),(23.3,0.28),(21.9,0.25),(20.5,0.19),(19,0.16),(17.6,0.10),(15.7,0.05),(13.8,0.03),(11.4,0.01),(9,0.01),(5.5,0.0)]
NS_SOLID = [[(59.7, 47.8)], [(54.4, 46.8), (40.1, 33.2)], [(46.3, 40.6), (38.7, 31.5)],
            [(43.9, 38.7), (36.3, 32.0)], [(39.1, 30.5)], [(40.1, 30.3)]]

PANELS = [
    ([IB_10W, IB_20W, IB_30W, IB_40W, IB_50W, IB_60W], IB_SOLID),
    ([FR_10W, FR_20W, FR_30W, FR_40W, FR_50W, FR_60W], FR_SOLID),
    ([UK_10W, UK_20W, UK_30W, UK_40W, UK_50W, UK_60W], UK_SOLID),
    ([SS_10W, SS_20W, SS_30W, SS_40W, SS_50W, SS_60W], SS_SOLID),
    ([NS_10W, NS_20W, NS_30W, NS_40W, NS_50W, NS_60W], NS_SOLID),
]

# ---------------- fonts ----------------
_names = {f.name for f in font_manager.fontManager.ttflist}
def _pick(*cands):
    for c in cands:
        if c in _names:
            return c
    return 'DejaVu Sans'
NARROW = _pick('Liberation Sans Narrow', 'Roboto Condensed', 'DejaVu Sans')
LABEL_FONT = _pick('Lato', 'Open Sans', 'DejaVu Sans')

# ---------------- layout ----------------
W, H = 879, 1752
fig = plt.figure(figsize=(W / 100, H / 100), dpi=100)
fig.patch.set_facecolor('white')
panel_px = [(105, 403), (427, 723), (747, 1043), (1067, 1364), (1386, 1682)]
LEFT = 126

DASH = (0, (3.4, 1.8))
DASHDOT = (0, (3.4, 1.5, 0.8, 1.5))

for pi, ((lines, solids), (top, bot)) in enumerate(zip(PANELS, panel_px)):
    ax = fig.add_axes([LEFT / W, 1 - bot / H, (W - LEFT) / W, (bot - top) / H])
    ax.set_xlim(70, 5.5)
    ax.set_ylim(0, 1.6)
    ax.set_xticks(X_TICKS)
    ax.set_yticks(Y_TICKS)
    ax.set_yticks(Y_MINOR, minor=True)
    ax.grid(True, which='both', color='#d9d9d9', lw=1.2)
    ax.set_axisbelow(True)
    for s in ('top', 'right'):
        ax.spines[s].set_visible(False)
    for s in ('left', 'bottom'):
        ax.spines[s].set_color('#333333')
        ax.spines[s].set_linewidth(1.6)
    ax.tick_params(axis='y', which='both', length=0, pad=7)
    ax.tick_params(axis='x', direction='in', length=4.5, width=1.3, color='#333333', pad=6)
    ax.set_yticklabels(Y_TICK_LABELS, fontsize=14, fontstyle='italic',
                       family=NARROW, color='#222222')
    if pi == len(PANELS) - 1:
        ax.set_xticklabels(X_TICK_LABELS, fontsize=14.5, fontstyle='italic',
                           family=NARROW, color='#222222')
    else:
        ax.set_xticklabels([])

    for j, pts in enumerate(lines):
        col = COLORS[j]
        ls = DASHDOT if j == 2 else DASH
        if pi == 0 and j == 2:
            col = IBERIA_30W_COLOR
            ls = DASH
        lat = [p[0] for p in pts]
        val = [p[1] for p in pts]
        ax.plot(lat, val, color=col, lw=2.1, linestyle=ls, zorder=2,
                dash_capstyle='butt')
    for j, pts in enumerate(lines):
        col = IBERIA_30W_COLOR if (pi == 0 and j == 2) else COLORS[j]
        for hi, lo in solids[j]:
            seg = [p for p in pts if lo <= p[0] <= hi]
            ax.plot([p[0] for p in seg], [p[1] for p in seg], color=col, lw=4.6,
                    solid_capstyle='round', solid_joinstyle='round', zorder=3 + j * 0.1)

    ax.text(7 / (W - LEFT), 1 - 3 / (bot - top), REGIONS[pi], transform=ax.transAxes,
            ha='left', va='top', fontsize=19, family=LABEL_FONT, color='#1a1a1a',
            linespacing=1.1, zorder=10)

# ---------------- title & legend ----------------
fig.text(493 / W, 1 - 27 / H, 'Values of (E-P)>0 Anomaly by Longitude', ha='center',
         va='center', fontsize=27, fontweight='bold', fontstyle='italic', family=NARROW)
for i, (lab, col) in enumerate(zip(LONGITUDES, COLORS)):
    cx = 280 + i * 85.6
    fig.add_artist(Line2D([(cx - 19) / W, (cx + 19) / W], [1 - 62 / H, 1 - 62 / H],
                          transform=fig.transFigure, color=col, lw=5.5,
                          solid_capstyle='round'))
    fig.text(cx / W, 1 - 86 / H, lab, ha='center', va='center', fontsize=13,
             fontstyle='italic', family=NARROW, color='#222222')

fig.text(22 / W, 1 - 907 / H, 'Anomaly of (E-P)>0', rotation=90, ha='center', va='center',
         fontsize=17, fontweight='bold', fontstyle='italic', family=NARROW)
fig.text(49 / W, 1 - 907 / H, '(mm/day)', rotation=90, ha='center', va='center',
         fontsize=17, fontweight='bold', fontstyle='italic', family=NARROW)
fig.text(493 / W, 1 - 1737 / H, 'Latitude (degrees)', ha='center', va='center',
         fontsize=17, fontweight='bold', fontstyle='italic', family=NARROW)

fig.savefig('out.png', dpi=100, facecolor='white')
